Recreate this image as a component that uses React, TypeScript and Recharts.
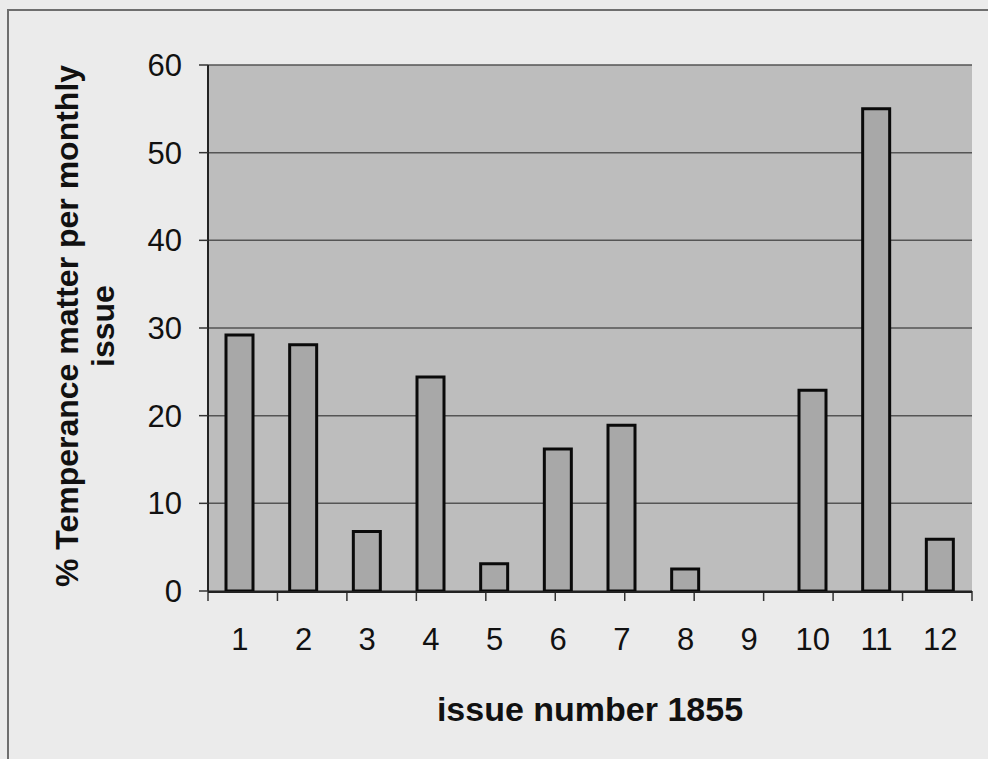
import React from 'react';
import {
  BarChart,
  Bar,
  XAxis,
  YAxis,
  CartesianGrid,
  Label
} from 'recharts';

// Share of each monthly issue given over to temperance matter, 1855
const issues: string[] = ['1', '2', '3', '4', '5', '6', '7', '8', '9', '10', '11', '12'];
const temperancePct: number[] = [29.2, 28.1, 6.8, 24.4, 3.1, 16.2, 18.9, 2.5, 0, 22.9, 55.0, 5.9];
const yTicks: number[] = [0, 10, 20, 30, 40, 50, 60];
const issueEdges: number[] = [0, 1, 2, 3, 4, 5, 6, 7, 8, 9, 10, 11, 12];

const chartData = issues.map((issue, i) => ({ issue, pct: temperancePct[i] }));

const FONT = '"Liberation Sans", Arial, Helvetica, sans-serif';

const YTitle = () => (
  <text
    transform="translate(0, 326) rotate(-90)"
    textAnchor="middle"
    fontFamily={FONT}
    fontWeight="bold"
    fontSize={32}
    fill="#111"
  >
    <tspan x={0} y={78}>% Temperance matter per monthly</tspan>
    <tspan x={0} y={114}>issue</tspan>
  </text>
);

const XTitle = (props: any) => {
  const { viewBox } = props;
  const cx = viewBox.x + viewBox.width / 2;
  return (
    <text
      x={cx}
      y={721}
      textAnchor="middle"
      fontFamily={FONT}
      fontWeight="bold"
      fontSize={34}
      fill="#111"
    >
      issue number 1855
    </text>
  );
};

const App: React.FC = () => {
  return (
    <div
      style={{
        position: 'absolute',
        left: 0,
        top: 0,
        width: 988,
        height: 759,
        background: '#ebebeb',
        overflow: 'hidden'
      }}
    >
      {/* thin frame round the figure */}
      <div
        style={{
          position: 'absolute',
          left: 7,
          top: 9,
          right: -2,
          bottom: -2,
          borderLeft: '2px solid #6e6e6e',
          borderTop: '2px solid #6e6e6e'
        }}
      />
      <BarChart
        width={988}
        height={759}
        data={chartData}
        margin={{ top: 65, right: 16, left: 0, bottom: 166 }}
        style={{ position: 'absolute', left: 0, top: 0 }}
      >
        <CartesianGrid
          vertical={false}
          fill="#bdbdbd"
          fillOpacity={1}
          stroke="#555"
          strokeWidth={1.5}
          yAxisId="left"
          xAxisId="main"
        />
        {/* tick marks between issues */}
        <XAxis
          xAxisId="edges"
          type="number"
          domain={[0, 12]}
          ticks={issueEdges}
          height={1}
          tickFormatter={() => ''}
          tickSize={10}
          tickLine={{ stroke: '#333', strokeWidth: 1.5 }}
          axisLine={false}
        />
        <XAxis
          xAxisId="main"
          dataKey="issue"
          height={1}
          tickSize={0}
          tickMargin={36}
          tickLine={false}
          axisLine={{ stroke: '#222', strokeWidth: 2 }}
          tick={{ fontSize: 31, fill: '#111', fontFamily: FONT }}
          interval={0}
        >
          <Label content={<XTitle />} />
        </XAxis>
        <YAxis
          yAxisId="left"
          width={208}
          domain={[0, 60]}
          ticks={yTicks}
          tickSize={9}
          tickMargin={17}
          tickLine={{ stroke: '#333', strokeWidth: 1.5 }}
          axisLine={{ stroke: '#222', strokeWidth: 2 }}
          tick={{ fontSize: 31, fill: '#111', fontFamily: FONT }}
        >
          <Label content={<YTitle />} />
        </YAxis>
        <YAxis
          yAxisId="right"
          orientation="right"
          width={0}
          domain={[0, 60]}
          tick={false}
          tickLine={false}
          axisLine={{ stroke: '#7a7a7a', strokeWidth: 1.5 }}
        />
        <Bar
          dataKey="pct"
          xAxisId="main"
          yAxisId="left"
          fill="#a8a8a8"
          stroke="#0a0a0a"
          strokeWidth={3}
          barSize={27}
          isAnimationActive={false}
        />
      </BarChart>
    </div>
  );
};

export default App;
